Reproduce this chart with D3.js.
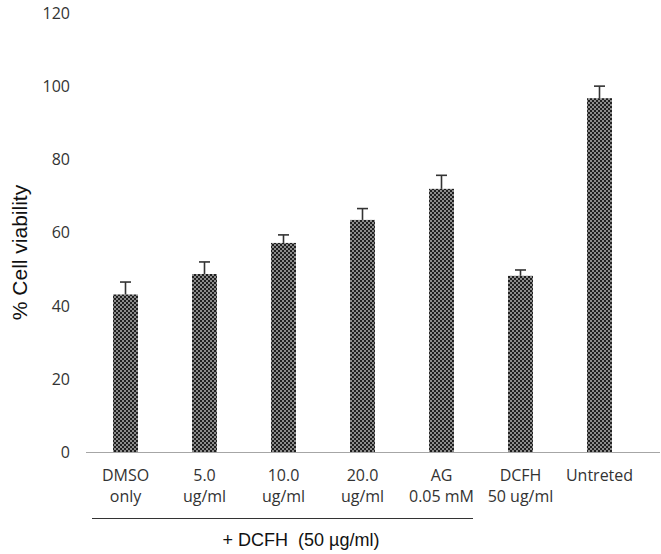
<!DOCTYPE html>
<html>
<head>
<meta charset="utf-8">
<script src="https://cdn.jsdelivr.net/npm/d3@7"></script>
<style>
  html, body { margin: 0; padding: 0; background: #fff; }
  svg { display: block; }
</style>
</head>
<body>
<svg id="chart" width="661" height="554"></svg>
<script>
const categoryLine1 = ["DMSO", "5.0", "10.0", "20.0", "AG", "DCFH", "Untreted"];
const categoryLine2 = ["only", "ug/ml", "ug/ml", "ug/ml", "0.05 mM", "50 ug/ml", ""];
const viability = [43.1, 48.7, 57.2, 63.5, 72.0, 48.2, 96.8];
const errorSD = [3.4, 3.3, 2.2, 3.1, 3.7, 1.6, 3.3];
const yTicks = [0, 20, 40, 60, 80, 100, 120];
const yTitle = "% Cell viability";
const groupLabel = "+ DCFH  (50 \u00b5g/ml)";

const svg = d3.select("#chart");
const idx = d3.range(categoryLine1.length);

const x = d3.scaleBand().domain(idx).range([86, 639]).paddingInner(0.684).paddingOuter(0.342);
const y = d3.scaleLinear().domain([0, 120]).range([452, 13.4]);

// pattern
const defs = svg.append("defs");
const pat = defs.append("pattern").attr("id", "checker").attr("patternUnits", "userSpaceOnUse")
  .attr("width", 4).attr("height", 4);
pat.append("rect").attr("width", 4).attr("height", 4).attr("fill", "#8c8c8c");
pat.append("rect").attr("x", 0).attr("y", 0).attr("width", 2).attr("height", 2).attr("fill", "#1f1f1f");
pat.append("rect").attr("x", 2).attr("y", 2).attr("width", 2).attr("height", 2).attr("fill", "#1f1f1f");

// y tick labels
svg.append("g").selectAll("text").data(yTicks).join("text")
  .attr("x", 70).attr("y", d => y(d)).attr("dy", "0.36em")
  .attr("text-anchor", "end")
  .style("font-family", "'Open Sans', sans-serif").style("font-size", "16px").attr("fill", "#333")
  .text(d => d);

// y title
svg.append("text")
  .attr("transform", `translate(27, ${252.5}) rotate(-90)`)
  .attr("text-anchor", "middle")
  .style("font-family", "'Liberation Sans', Arial, sans-serif").style("font-size", "21px").attr("fill", "#111")
  .text(yTitle);

// bars
svg.append("g").selectAll("rect").data(idx).join("rect")
  .attr("x", i => x(i)).attr("width", x.bandwidth())
  .attr("y", i => y(viability[i])).attr("height", i => y(0) - y(viability[i]))
  .attr("fill", "url(#checker)");

// error bars
const eb = svg.append("g").attr("stroke", "#333").attr("stroke-width", 1.6);
idx.forEach(i => {
  const cx = x(i) + x.bandwidth() / 2;
  eb.append("line").attr("x1", cx).attr("x2", cx)
    .attr("y1", y(viability[i])).attr("y2", y(viability[i] + errorSD[i]));
  eb.append("line").attr("x1", cx - 5.5).attr("x2", cx + 5.5)
    .attr("y1", y(viability[i] + errorSD[i])).attr("y2", y(viability[i] + errorSD[i]));
});

// x axis line
svg.append("line").attr("x1", 86).attr("x2", 660).attr("y1", y(0) + 0.5).attr("y2", y(0) + 0.5)
  .attr("stroke", "#a6a6a6").attr("stroke-width", 1.2);

// category labels
const lab = svg.append("g").style("font-family", "'Open Sans', sans-serif").style("font-size", "16px").attr("fill", "#333")
  .attr("text-anchor", "middle");
idx.forEach(i => {
  const cx = x(i) + x.bandwidth() / 2;
  lab.append("text").attr("x", cx).attr("y", 481).text(categoryLine1[i]);
  if (categoryLine2[i]) lab.append("text").attr("x", cx).attr("y", 502).text(categoryLine2[i]);
});

// group bracket
svg.append("line").attr("x1", 92).attr("x2", 473).attr("y1", 518.5).attr("y2", 518.5)
  .attr("stroke", "#333").attr("stroke-width", 1.2);
svg.append("text").attr("x", 301).attr("y", 545.5).attr("text-anchor", "middle")
  .style("font-family", "'Liberation Sans', Arial, sans-serif").style("font-size", "18px").attr("fill", "#111")
  .style("white-space", "pre").attr("xml:space", "preserve")
  .text(groupLabel);
</script>
</body>
</html>
